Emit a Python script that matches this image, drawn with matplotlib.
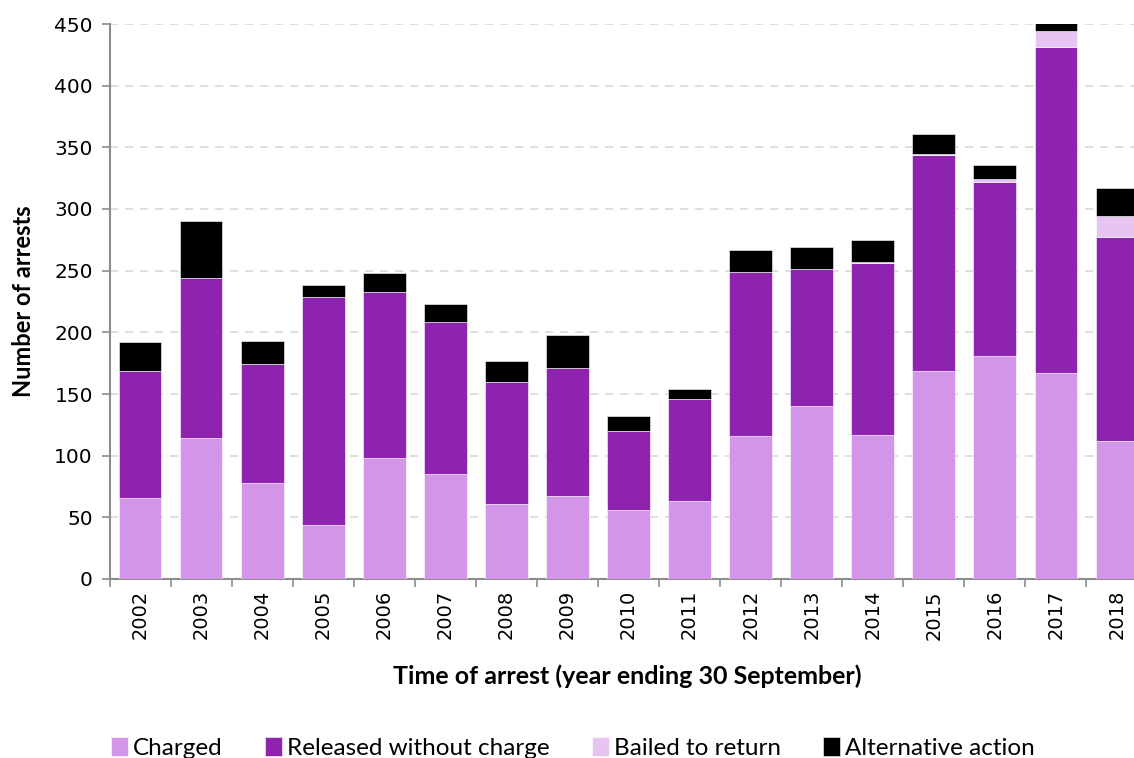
import numpy as np
import matplotlib.pyplot as plt

plt.rcParams["font.family"] = ["DejaVu Sans"]

years = [str(y) for y in range(2002, 2019)]
charged = [66, 114, 78, 44, 98, 85, 61, 67, 56, 63, 116, 140, 117, 169, 181, 167, 112]
released = [103, 130, 96, 185, 135, 123, 99, 104, 64, 83, 133, 111, 139, 175, 141, 264, 165]
bailed = [0, 0, 0, 0, 0, 0, 0, 0, 0, 0, 0, 0, 1, 1, 2, 13, 17]
alternative = [23, 46, 19, 9, 15, 15, 17, 27, 12, 8, 18, 18, 18, 16, 12, 8, 23]

series = [
    ("Charged", charged, "#d395e8"),
    ("Released without charge", released, "#8e23b0"),
    ("Bailed to return", bailed, "#e8c4f2"),
    ("Alternative action", alternative, "#000000"),
]

fig = plt.figure(figsize=(11.34, 7.58), dpi=100)
ax = fig.add_axes([109.5 / 1134, 179 / 758, 17 * 61.06 / 1134, 555 / 758])

x = np.arange(len(years))
bottom = np.zeros(len(years))
for label, vals, color in series:
    vals = np.array(vals, dtype=float)
    ax.bar(x, vals, bottom=bottom, width=0.7, color=color, label=label,
           edgecolor="white", linewidth=0.4, zorder=3)
    bottom += vals

ax.set_xlim(-0.5, len(years) - 0.5)
ax.set_ylim(0, 450)
ax.set_yticks(range(0, 451, 50))
ax.yaxis.grid(True, linestyle=(0, (5, 4)), color="#d9d9d9", linewidth=1.2, zorder=0)
ax.set_axisbelow(True)

ax.set_xticks(x)
ax.set_xticklabels(years, rotation=90)
ax.set_xticks(np.arange(-0.5, len(years), 1), minor=True)
ax.tick_params(axis="x", which="major", length=0, pad=8, labelsize=14)
ax.tick_params(axis="x", which="minor", length=6, color="#8c8c8c", width=1.2)
ax.tick_params(axis="y", length=6, color="#8c8c8c", width=1.2, labelsize=14.5, pad=6)

for side in ["top", "right"]:
    ax.spines[side].set_visible(False)
for side in ["left", "bottom"]:
    ax.spines[side].set_color("#8c8c8c")
    ax.spines[side].set_linewidth(1.5)

lbl_font = "Lato"
ax.set_ylabel("Number of arrests", fontsize=17, fontweight="bold", fontfamily=lbl_font, labelpad=14)
fig.text(0.553, (758 - 676) / 758, "Time of arrest (year ending 30 September)",
         ha="center", va="center", fontsize=18, fontweight="bold", fontfamily=lbl_font)

handles, labels = ax.get_legend_handles_labels()
fig.legend(handles, labels, loc="center", bbox_to_anchor=(0.505, (758 - 748) / 758), ncol=4,
           frameon=False, prop={"family": lbl_font, "size": 17.5}, handlelength=0.7,
           handleheight=0.8, handletextpad=0.2, columnspacing=1.75)

fig.savefig("out.png", dpi=100)
